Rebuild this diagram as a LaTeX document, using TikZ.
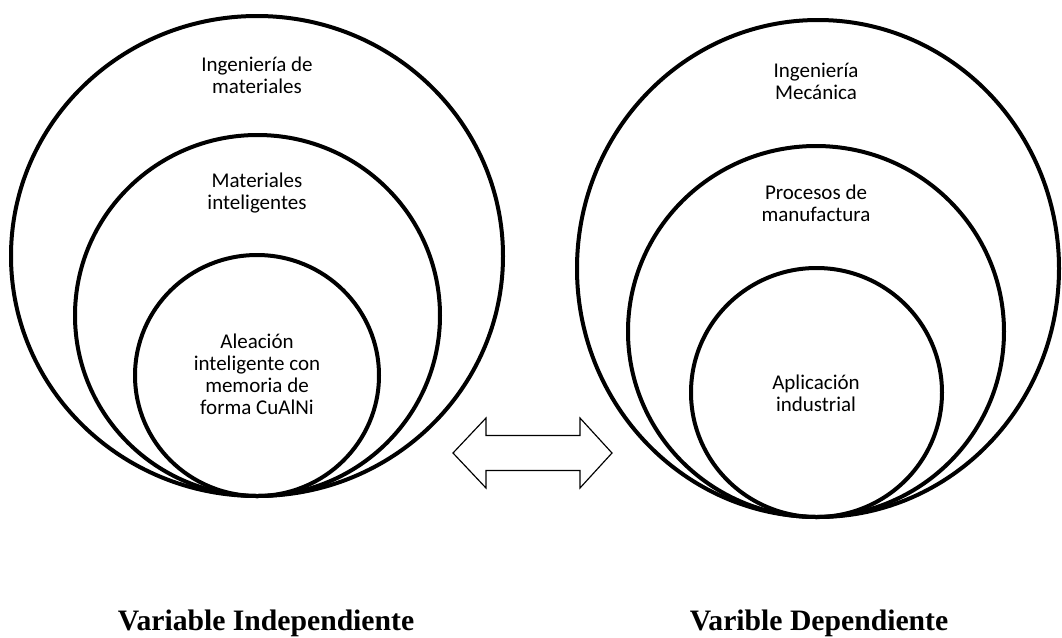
\documentclass[tikz,border=0pt]{standalone}
\usepackage{fontspec}
\setmainfont{Carlito}
\newfontfamily\varfont{Liberation Serif}
\usepackage{tikz}
\usetikzlibrary{positioning}
\tikzset{
  ring/.style={line width=2.4pt},
  ringtext/.style={align=center, inner sep=0pt, font=\fontsize{12.6}{13.2}\selectfont},
  vartext/.style={anchor=base, font=\varfont\bfseries\fontsize{17.8}{20}\selectfont}
}

\begin{document}
\begin{tikzpicture}[x=0.6pt, y=-0.6pt]
\useasboundingbox (0,0) rectangle (1062,637);
% left group
\foreach \cx/\cy/\rx/\ry in {257/256/246/240, 257.5/315.5/182.5/180.5, 257/375.5/122/120.5}
  {\draw[ring] (\cx,\cy) ellipse [x radius=\rx, y radius=\ry];}
% right group
\foreach \cx/\cy/\rx/\ry in {818/268.5/241/248.5, 816/331.5/188/185.5, 816.5/392.5/125.5/124.5}
  {\draw[ring] (\cx,\cy) ellipse [x radius=\rx, y radius=\ry];}
\node[ringtext] (ingmat) at (257,75) {Ingeniería de\\materiales};
\node[ringtext] (matint) at (257,193) {Materiales\\inteligentes};
\node[ringtext] (aleacion) at (257,374) {Aleación\\inteligente con\\memoria de\\forma CuAlNi};
\node[ringtext] (ingmec) at (816,81) {Ingeniería\\Mecánica};
\node[ringtext] (procman) at (816,203) {Procesos de\\manufactura};
\node[ringtext] (aplind) at (816,393) {Aplicación\\industrial};
% double arrow
\draw[line width=0.7pt] (453,453) -- (486,418) -- (486,435.5) -- (580,435.5) -- (580,418)
  -- (612,453) -- (580,488) -- (580,470.5) -- (486,470.5) -- (486,488) -- cycle;
\node[vartext] (indep) at (266,630) {Variable Independiente};
\node[vartext] (dep) at (819,630) {Varible Dependiente};
\end{tikzpicture}
\end{document}
